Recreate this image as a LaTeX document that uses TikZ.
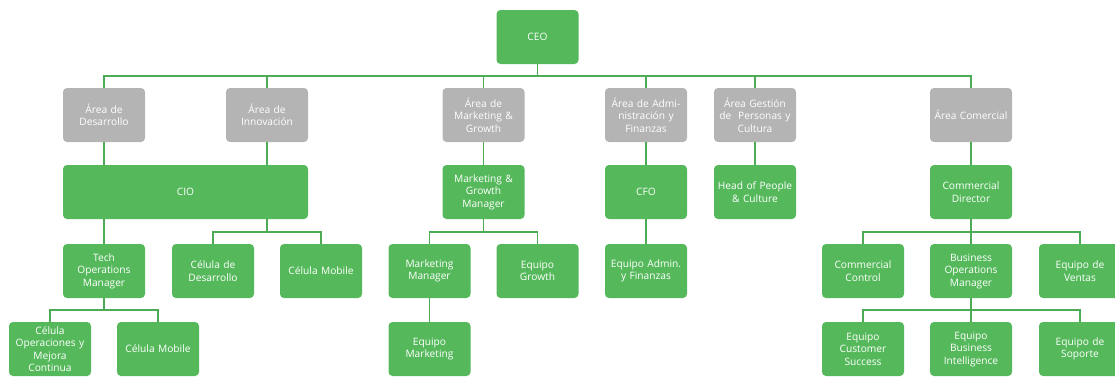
\documentclass[tikz,border=0pt]{standalone}
\usepackage{fontspec}
\setmainfont{Open Sans}
\definecolor{boxgreen}{HTML}{55B95C}
\definecolor{linegreen}{HTML}{4DAA55}
\definecolor{boxgray}{HTML}{B4B4B4}
\begin{document}
\begin{tikzpicture}[x=1pt,y=-1pt,
  orgbox/.style={rectangle, rounded corners=4pt, minimum width=82pt, minimum height=54pt,
    inner sep=1pt, text width=80pt, align=center, text=white, draw=none,
    font=\fontsize{10.2}{12.5}\selectfont},
  greenbox/.style={orgbox, fill=boxgreen},
  graybox/.style={orgbox, fill=boxgray},
  conn/.style={draw=linegreen, line width=1.2pt}]
\useasboundingbox (0,0) rectangle (1115,376);
\clip (0,0) rectangle (1115,376);
% CEO
\node[greenbox, minimum width=81pt] (ceo) at (537.5,37) {CEO};
% row 1
\node[graybox] (ad) at (104,115) {Área de\\Desarrollo};
\node[graybox] (ai) at (267,115) {Área de\\Innovación};
\node[graybox] (am) at (483.5,115) {Área de\\Marketing \&\\Growth};
\node[graybox] (af) at (646,115) {Área de Admi-\\nistración y\\Finanzas};
\node[graybox] (ap) at (755,115) {Área Gestión\\de~ Personas y\\Cultura};
\node[graybox] (ac) at (971,115) {Área Comercial};
% row 2
\node[greenbox, minimum width=245pt, text width=240pt] (cio) at (185.5,192) {CIO};
\node[greenbox] (mgm) at (483.5,192) {Marketing \&\\Growth\\Manager};
\node[greenbox] (cfo) at (646,192) {CFO};
\node[greenbox] (hpc) at (755,192) {Head of People\\\& Culture};
\node[greenbox] (cdir) at (971,192) {Commercial\\Director};
% row 3
\node[greenbox] (tom) at (104,271) {Tech\\Operations\\Manager};
\node[greenbox] (cdes) at (213,271) {Célula de\\Desarrollo};
\node[greenbox] (cmob) at (321,271) {Célula Mobile};
\node[greenbox] (mm) at (429.5,271) {Marketing\\Manager};
\node[greenbox] (eg) at (537.5,271) {Equipo\\Growth};
\node[greenbox] (eaf) at (646,271) {Equipo Admin.\\y Finanzas};
\node[greenbox] (cc) at (863,271) {Commercial\\Control};
\node[greenbox] (bom) at (971,271) {Business\\Operations\\Manager};
\node[greenbox] (ev) at (1080,271) {Equipo de\\Ventas};
% row 4
\node[greenbox] (cop) at (50,349) {Célula\\Operaciones y\\Mejora\\Continua};
\node[greenbox] (cmob2) at (158,349) {Célula Mobile};
\node[greenbox] (emk) at (429.5,349) {Equipo\\Marketing};
\node[greenbox] (ecs) at (863,349) {Equipo\\Customer\\Success};
\node[greenbox] (ebi) at (971,349) {Equipo\\Business\\Intelligence};
\node[greenbox] (es) at (1080,349) {Equipo de\\Soporte};
% bus coordinates
\coordinate (b0) at (537.5,76);
\coordinate (b1) at (267,232);
\coordinate (b2) at (483.5,232);
\coordinate (b3) at (971,232);
\coordinate (b4) at (104,310);
\coordinate (b5) at (971,310);
% CEO to areas
\draw[conn] (ceo.south) -- (b0);
\draw[conn] (b0) -| (ad.north);
\draw[conn] (b0) -| (ai.north);
\draw[conn] (b0) -| (am.north);
\draw[conn] (b0) -| (af.north);
\draw[conn] (b0) -| (ap.north);
\draw[conn] (b0) -| (ac.north);
% areas to row 2
\draw[conn] (ad.south) -- (ad.south |- cio.north);
\draw[conn] (ai.south) -- (ai.south |- cio.north);
\draw[conn] (am.south) -- (mgm.north);
\draw[conn] (af.south) -- (cfo.north);
\draw[conn] (ap.south) -- (hpc.north);
\draw[conn] (ac.south) -- (cdir.north);
% row 2 to row 3
\draw[conn] (tom.north |- cio.south) -- (tom.north);
\draw[conn] (b1 |- cio.south) -- (b1);
\draw[conn] (b1) -| (cdes.north);
\draw[conn] (b1) -| (cmob.north);
\draw[conn] (mgm.south) -- (b2);
\draw[conn] (b2) -| (mm.north);
\draw[conn] (b2) -| (eg.north);
\draw[conn] (cfo.south) -- (eaf.north);
\draw[conn] (cdir.south) -- (b3);
\draw[conn] (b3) -| (cc.north);
\draw[conn] (b3) -- (bom.north);
\draw[conn] (b3) -| (ev.north);
% row 3 to row 4
\draw[conn] (tom.south) -- (b4);
\draw[conn] (b4) -| (cop.north);
\draw[conn] (b4) -| (cmob2.north);
\draw[conn] (mm.south) -- (emk.north);
\draw[conn] (bom.south) -- (b5);
\draw[conn] (b5) -| (ecs.north);
\draw[conn] (b5) -- (ebi.north);
\draw[conn] (b5) -| (es.north);
\end{tikzpicture}
\end{document}
